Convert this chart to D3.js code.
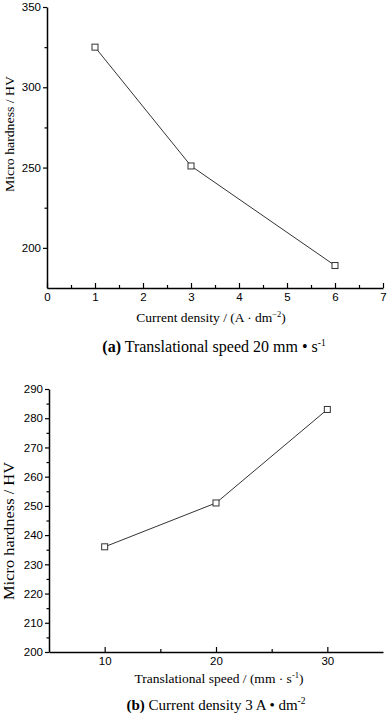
<!DOCTYPE html>
<html><head><meta charset="utf-8">
<script src="https://cdn.jsdelivr.net/npm/d3@7"></script>
<style>body{margin:0;background:#fff}svg{display:block}</style>
</head><body>
<script>
// Panel (a)
const currentDensity = [1, 3, 6];
const hardnessA = [325, 251, 189];
const xTicksA = [0, 1, 2, 3, 4, 5, 6, 7];
const yTicksA = [200, 250, 300, 350];
// Panel (b)
const transSpeed = [10, 20, 30];
const hardnessB = [236, 251, 283];
const xTicksB = [10, 20, 30];
const yTicksB = [200, 210, 220, 230, 240, 250, 260, 270, 280, 290];

const W = 388, H = 713;
const svg = d3.select("body").append("svg").attr("width", W).attr("height", H);
const sans = "'Liberation Sans', Arial, sans-serif";
const serif = "'Liberation Serif', 'Times New Roman', serif";

function panel(cfg) {
  const x = d3.scaleLinear().domain(cfg.xDom).range([cfg.left, cfg.right]);
  const y = d3.scaleLinear().domain(cfg.yDom).range([cfg.bottom, cfg.top]);
  const g = svg.append("g");

  // minor ticks
  g.append("g").attr("transform", `translate(0,${cfg.bottom})`)
    .call(d3.axisBottom(x).tickValues(cfg.xMinor).tickSize(-3).tickSizeOuter(0).tickFormat(""))
    .call(s => s.select(".domain").remove())
    .selectAll("line").attr("stroke", "#000").attr("stroke-width", 1.2);
  g.append("g").attr("transform", `translate(${cfg.left},0)`)
    .call(d3.axisLeft(y).tickValues(cfg.yMinor).tickSize(2.5).tickSizeOuter(0).tickFormat(""))
    .call(s => s.select(".domain").remove())
    .selectAll("line").attr("stroke", "#000").attr("stroke-width", 1.2);

  // major axes
  const xa = g.append("g").attr("transform", `translate(0,${cfg.bottom})`)
    .call(d3.axisBottom(x).tickValues(cfg.xTicks).tickSize(-5).tickSizeOuter(0).tickPadding(5).tickFormat(d3.format("d")));
  const ya = g.append("g").attr("transform", `translate(${cfg.left},0)`)
    .call(d3.axisLeft(y).tickValues(cfg.yTicks).tickSize(4).tickSizeOuter(0).tickPadding(2).tickFormat(d3.format("d")));
  [xa, ya].forEach(a => {
    a.select(".domain").attr("stroke", "#000").attr("stroke-width", 1.5);
    a.selectAll("line").attr("stroke", "#000").attr("stroke-width", 1.2);
    a.selectAll("text").attr("font-family", sans).attr("font-size", 11.5).attr("fill", "#000");
  });

  // line
  const pts = cfg.xs.map((v, i) => [v, cfg.ys[i]]);
  g.append("path").datum(pts)
    .attr("d", d3.line().x(d => x(d[0])).y(d => y(d[1])))
    .attr("fill", "none").attr("stroke", "#333").attr("stroke-width", 1);
  const s = 6;
  g.selectAll("rect.m").data(pts).join("rect").attr("class", "m")
    .attr("x", d => x(d[0]) - s / 2).attr("y", d => y(d[1]) - s / 2)
    .attr("width", s).attr("height", s)
    .attr("fill", "#fff").attr("stroke", "#333").attr("stroke-width", 1);

  // y label
  svg.append("text")
    .attr("transform", `translate(${cfg.yLabX},${cfg.yLabY}) rotate(-90)`)
    .attr("text-anchor", "middle").attr("font-family", serif).attr("font-size", cfg.yLabSize)
    .attr("textLength", cfg.yLabLen).attr("lengthAdjust", "spacingAndGlyphs")
    .text("Micro hardness / HV");

  // x label
  const xl = svg.append("text").attr("x", cfg.xLabX).attr("y", cfg.xLabY)
    .attr("text-anchor", "middle").attr("font-family", serif).attr("font-size", 13.5);
  cfg.xLabParts.forEach(p => {
    const t = xl.append("tspan").text(p.t);
    if (p.sup) t.attr("dy", -5).attr("font-size", 8.5);
    if (p.down) t.attr("dy", 5);
  });

  // caption
  const cap = svg.append("text").attr("x", cfg.capX).attr("y", cfg.capY)
    .attr("text-anchor", "middle").attr("font-family", serif).attr("font-size", cfg.capSize);
  cfg.capParts.forEach(p => {
    const t = cap.append("tspan").text(p.t);
    if (p.bold) t.attr("font-weight", "bold");
    if (p.sup) t.attr("dy", -6).attr("font-size", 9.5);
  });
}

panel({
  xDom: [0, 7], yDom: [175, 350], left: 47, right: 383, top: 7, bottom: 288,
  xs: currentDensity, ys: hardnessA,
  xTicks: xTicksA, xMinor: d3.range(0.5, 7, 1),
  yTicks: yTicksA, yMinor: [225, 275, 325],
  yLabX: 14, yLabY: 134, yLabSize: 13, yLabLen: 116,
  xLabX: 211, xLabY: 322,
  xLabParts: [{t: "Current density / (A \u00b7 dm"}, {t: "\u22122", sup: true}, {t: ")", down: true}],
  capX: 214, capY: 352, capSize: 16,
  capParts: [{t: "(a)", bold: true}, {t: " Translational speed 20 mm \u2022 s"}, {t: "-1", sup: true}]
});

panel({
  xDom: [5, 35], yDom: [200, 290], left: 49, right: 383, top: 389, bottom: 652,
  xs: transSpeed, ys: hardnessB,
  xTicks: xTicksB, xMinor: [15, 25],
  yTicks: yTicksB, yMinor: d3.range(205, 290, 10),
  yLabX: 14, yLabY: 531, yLabSize: 14, yLabLen: 138,
  xLabX: 219, xLabY: 683,
  xLabParts: [{t: "Translational speed / (mm \u00b7 s"}, {t: "-1", sup: true}, {t: ")", down: true}],
  capX: 216, capY: 710, capSize: 15,
  capParts: [{t: "(b)", bold: true}, {t: " Current density 3 A \u2022 dm"}, {t: "-2", sup: true}]
});
</script>
</body></html>
